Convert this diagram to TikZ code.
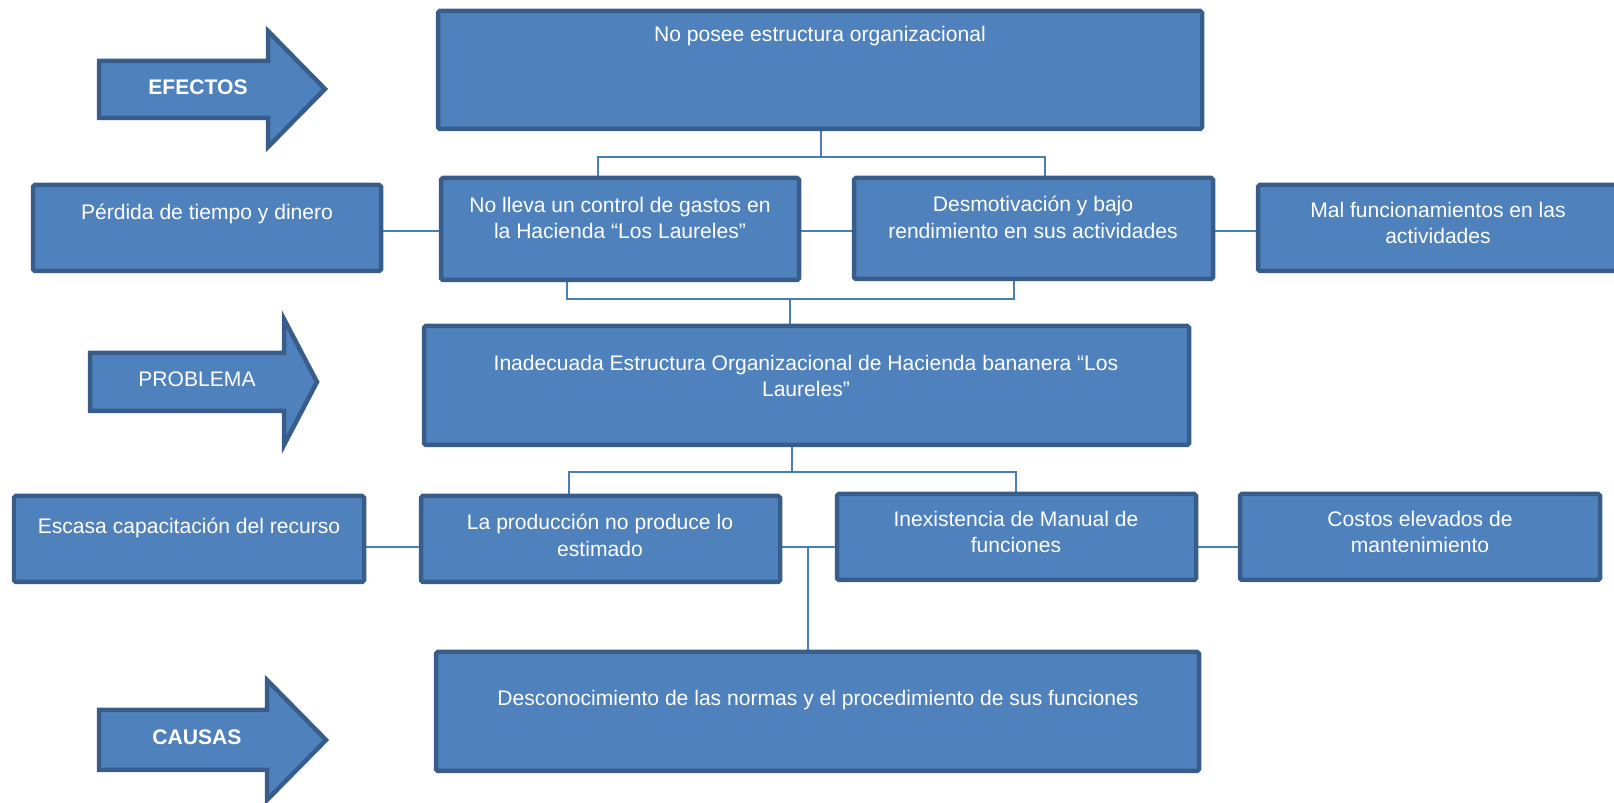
\documentclass[tikz,border=0pt]{standalone}
\usepackage{fontspec}
\setmainfont{Liberation Sans}
\usetikzlibrary{fit,backgrounds}
\definecolor{azul}{HTML}{4F81BD}
\definecolor{borde}{HTML}{385D8A}
\definecolor{enlace}{HTML}{4A7EBB}
\tikzstyle{caja}=[rectangle, draw=borde, line width=0.09cm, fill=azul, rounded corners=1pt, inner sep=0pt]
\tikzstyle{texto}=[text=white, align=center, inner sep=0pt, font=\fontsize{12}{15.3}\selectfont]
\tikzstyle{titulo}=[texto, font=\fontsize{12}{15.3}\selectfont\bfseries]
\tikzstyle{flecha}=[draw=borde, line width=0.09cm, fill=azul, line join=miter]
\tikzstyle{conector}=[draw=enlace, line width=0.035cm]
\newcommand{\caja}{\node[caja]}
\newcommand{\texto}{\node[texto]}

\begin{document}
\begin{tikzpicture}[x=0.02cm, y=-0.02cm]
            \clip (0,0) rectangle (1614,803);
            \caja[fit={(438,11) (1202,129)}] (estructura) {};
            \caja[fit={(33,185) (381,271)}] (perdida) {};
            \caja[fit={(441,178) (799,280)}] (control) {};
            \caja[fit={(854,178) (1213,279)}] (desmotivacion) {};
            \caja[fit={(1258,185) (1625,271)}] (funcionamiento) {};
            \caja[fit={(424,326) (1189,445)}] (problema) {};
            \caja[fit={(14,496) (364,582)}] (capacitacion) {};
            \caja[fit={(421,496) (780,582)}] (produccion) {};
            \caja[fit={(837,494) (1196,580)}] (manual) {};
            \caja[fit={(1240,494) (1600,580)}] (costos) {};
            \caja[fit={(436,652) (1199,771)}] (normas) {};
            \texto (t-estructura) at (820,36) {No posee estructura organizacional};
            \texto (t-perdida) at (207,214) {Pérdida de tiempo y dinero};
            \texto (t-control) at (620,218) {No lleva un control de gastos en\\la Hacienda “Los Laureles”};
            \texto (t-desmotivacion) at (1033,217) {Desmotivación y bajo\\rendimiento en sus actividades};
            \texto (t-funcionamiento) at (1438,223) {Mal funcionamientos en las\\actividades};
            \texto (t-problema) at (806,376) {Inadecuada Estructura Organizacional de Hacienda bananera “Los\\Laureles”};
            \texto (t-capacitacion) at (189,528) {Escasa capacitación del recurso};
            \texto (t-produccion) at (600,535) {La producción no produce lo\\estimado};
            \texto (t-manual) at (1016,532) {Inexistencia de Manual de\\funciones};
            \texto (t-costos) at (1420,532) {Costos elevados de\\mantenimiento};
            \texto (t-normas) at (818,700) {Desconocimiento de las normas y el procedimiento de sus funciones};
            \draw[flecha] (99,61) -- (268,61) -- (268,31) -- (325,89) -- (268,147) -- (268,118) -- (99,118) -- cycle;
            \draw[flecha] (90,353) -- (284,353) -- (284,319) -- (317,382) -- (284,445) -- (284,411) -- (90,411) -- cycle;
            \draw[flecha] (99,710) -- (267,710) -- (267,680) -- (326,740) -- (267,800) -- (267,770) -- (99,770) -- cycle;
            \node[titulo] (efectos) at (198,87) {EFECTOS};
            \texto (t-problema-flecha) at (197,379) {PROBLEMA};
            \node[titulo] (causas) at (197,737) {CAUSAS};
            \coordinate (e0) at (821,157);
            \coordinate (e1) at (598,157);
            \coordinate (e2) at (1045,157);
            \coordinate (f1) at (0,231);
            \coordinate (e3) at (567,299);
            \coordinate (e4) at (1014,299);
            \coordinate (e5) at (790,299);
            \coordinate (c0) at (792,472);
            \coordinate (c1) at (569,472);
            \coordinate (c2) at (1016,472);
            \coordinate (c3) at (808,547);
            \begin{scope}[on background layer]
                \draw[conector] (estructura.south -| e0) -- (e0);
                \draw[conector] (control.north -| e1) -- (e1) -- (e2) -- (desmotivacion.north -| e2);
                \draw[conector] (perdida |- f1) -- (funcionamiento |- f1);
                \draw[conector] (control.south -| e3) -- (e3) -- (e4) -- (desmotivacion.south -| e4);
                \draw[conector] (e5) -- (problema.north -| e5);
                \draw[conector] (problema.south -| c0) -- (c0);
                \draw[conector] (produccion.north -| c1) -- (c1) -- (c2) -- (manual.north -| c2);
                \draw[conector] (capacitacion |- c3) -- (costos |- c3);
                \draw[conector] (c3) -- (normas.north -| c3);
            \end{scope}
\end{tikzpicture}
\end{document}
